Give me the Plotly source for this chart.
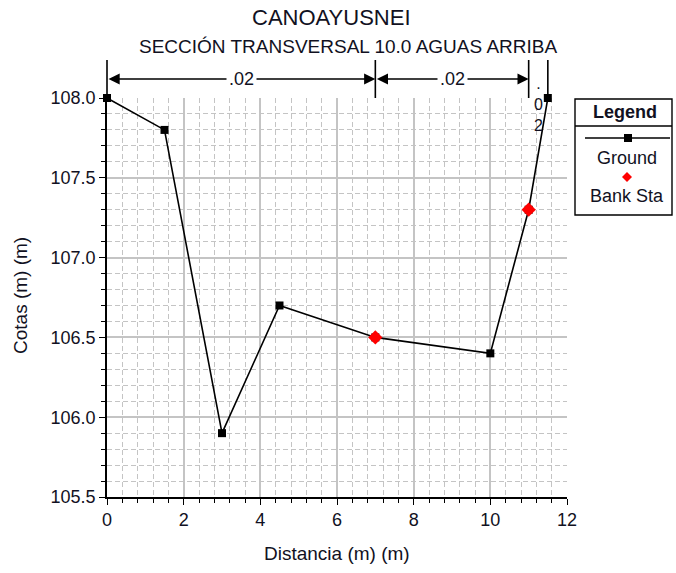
import plotly.graph_objects as go

# ---------------- data ----------------
station = [0.0, 1.5, 3.0, 4.5, 7.0, 10.0, 11.0, 11.5]
elevation = [108.0, 107.8, 105.9, 106.7, 106.5, 106.4, 107.3, 108.0]
bank_station = [7.0, 11.0]
bank_elevation = [106.5, 107.3]
manning_n = [".02", ".02", ".02"]
x_ticks = [0, 2, 4, 6, 8, 10, 12]
y_ticks = [105.5, 106.0, 106.5, 107.0, 107.5, 108.0]
y_tick_text = ["105.5", "106.0", "106.5", "107.0", "107.5", "108.0"]
title_text = "CANOAYUSNEI"
subtitle_text = "SECCIÓN TRANSVERSAL 10.0 AGUAS ARRIBA"
x_title = "Distancia (m) (m)"
y_title = "Cotas (m) (m)"
legend_title = "Legend"
legend_names = ["Ground", "Bank Sta"]

# ---------------- layout geometry ----------------
W, H = 676, 573
ML, MR, MT, MB = 107, 109, 98, 76
PW, PH = W - ML - MR, H - MT - MB
x_range = [0, 12]
y_range = [105.5, 108.0]
FONT = "Liberation Sans, Arial, sans-serif"
TXT = "#111122"


def pyp(pix):
    """paper y from a pixel row"""
    return (H - MB - pix) / PH


def pxp(pix):
    """paper x from a pixel column"""
    return (pix - ML) / PW


def xpaper(v):
    """paper x from a data x"""
    return (v - x_range[0]) / (x_range[1] - x_range[0])


fig = go.Figure()
fig.add_trace(go.Scatter(
    x=station, y=elevation, mode="lines+markers", name=legend_names[0],
    line=dict(color="black", width=1.6),
    marker=dict(symbol="square", size=8, color="black"),
    cliponaxis=False, showlegend=False))
fig.add_trace(go.Scatter(
    x=bank_station, y=bank_elevation, mode="markers", name=legend_names[1],
    marker=dict(symbol="diamond", size=11, color="#ff0000"),
    cliponaxis=False, showlegend=False))

grid_major = "#c4c4c4"
grid_minor = "#c4c4c4"
axis_common = dict(
    showline=True, linecolor="black", linewidth=1.6,
    ticks="outside", ticklen=6, tickwidth=1.3, tickcolor="black",
    showgrid=True, gridcolor=grid_major, gridwidth=1.5,
    zeroline=False, tickfont=dict(family=FONT, size=18, color=TXT),
)
fig.update_xaxes(range=x_range, tickvals=x_ticks, **axis_common,
                 minor=dict(dtick=0.4, tick0=0, ticks="outside", ticklen=4,
                            tickcolor="black", tickwidth=1.2, showgrid=True,
                            gridcolor=grid_minor, griddash="5px,3px", gridwidth=1.2))
fig.update_yaxes(range=y_range, tickvals=y_ticks, ticktext=y_tick_text, **axis_common,
                 minor=dict(dtick=0.1, tick0=105.5, ticks="outside", ticklen=4,
                            tickcolor="black", tickwidth=1.2, showgrid=True,
                            gridcolor=grid_minor, griddash="5px,3px", gridwidth=1.2))

shapes = []
annotations = []

# titles
annotations.append(dict(text=title_text, xref="paper", yref="paper", x=pxp(331), y=pyp(17),
                        xanchor="center", yanchor="middle", showarrow=False,
                        font=dict(family=FONT, size=22, color=TXT)))
annotations.append(dict(text=subtitle_text, xref="paper", yref="paper", x=pxp(348), y=pyp(46),
                        xanchor="center", yanchor="middle", showarrow=False,
                        font=dict(family=FONT, size=19, color=TXT)))
annotations.append(dict(text=x_title, xref="paper", yref="paper", x=0.5, y=pyp(553),
                        xanchor="center", yanchor="middle", showarrow=False,
                        font=dict(family=FONT, size=19, color=TXT)))
annotations.append(dict(text=y_title, xref="paper", yref="paper", x=pxp(20), y=pyp(296),
                        xanchor="center", yanchor="middle", showarrow=False, textangle=-90,
                        font=dict(family=FONT, size=19, color=TXT)))

# Manning's n reach breaks (first station, bank stations, last station)
breaks = [station[0]] + bank_station + [station[-1]]
for b in breaks:
    shapes.append(dict(type="line", xref="paper", yref="paper", x0=xpaper(b), x1=xpaper(b),
                       y0=1.0, y1=pyp(60), line=dict(color="black", width=1.6)))

y_arrow = pyp(79)
for i, n in enumerate(manning_n):
    a, b = breaks[i], breaks[i + 1]
    if (b - a) > 1.0:
        annotations.append(dict(x=b, y=y_arrow, ax=a, ay=0, xref="x", yref="paper",
                                axref="x", ayref="pixel", text="", showarrow=True,
                                arrowhead=2, startarrowhead=2, arrowside="end+start",
                                arrowsize=1.4, startarrowsize=1.4, arrowwidth=1.6,
                                arrowcolor="black", standoff=0, startstandoff=0))
        annotations.append(dict(x=(a + b) / 2, y=y_arrow, xref="x", yref="paper", text=n,
                                showarrow=False, bgcolor="white", borderpad=2,
                                xanchor="center", yanchor="middle",
                                font=dict(family=FONT, size=18, color=TXT)))
    else:
        annotations.append(dict(x=(a + b) / 2, y=pyp(104), xref="x", yref="paper",
                                text="<br>".join(list(n)),
                                showarrow=False, xanchor="center", yanchor="middle",
                                font=dict(family=FONT, size=16, color=TXT)))

# custom legend box
lx0, lx1, ly0, ly1 = pxp(575), pxp(672), pyp(215), pyp(99)
shapes.append(dict(type="rect", xref="paper", yref="paper", x0=lx0, x1=lx1, y0=ly0, y1=ly1,
                   line=dict(color="black", width=1.4), fillcolor="white"))
shapes.append(dict(type="line", xref="paper", yref="paper", x0=lx0, x1=lx1,
                   y0=pyp(126), y1=pyp(126), line=dict(color="black", width=1.4)))
annotations.append(dict(text="<b>%s</b>" % legend_title, xref="paper", yref="paper",
                        x=pxp(625), y=pyp(112), xanchor="center", yanchor="middle",
                        showarrow=False, font=dict(family=FONT, size=18, color=TXT)))
shapes.append(dict(type="line", xref="paper", yref="paper", x0=pxp(585), x1=pxp(670),
                   y0=pyp(138), y1=pyp(138), line=dict(color="black", width=1.6)))
shapes.append(dict(type="rect", xref="paper", yref="paper", xsizemode="pixel", ysizemode="pixel",
                   xanchor=pxp(628), yanchor=pyp(138), x0=-4, x1=4, y0=-4, y1=4,
                   line=dict(width=0), fillcolor="black"))
annotations.append(dict(text=legend_names[0], xref="paper", yref="paper",
                        x=pxp(627), y=pyp(158), xanchor="center", yanchor="middle",
                        showarrow=False, font=dict(family=FONT, size=18, color=TXT)))
shapes.append(dict(type="path", xref="paper", yref="paper", xsizemode="pixel", ysizemode="pixel",
                   xanchor=pxp(627), yanchor=pyp(177), path="M 0 5 L 5 0 L 0 -5 L -5 0 Z",
                   line=dict(width=0), fillcolor="#ff0000"))
annotations.append(dict(text=legend_names[1], xref="paper", yref="paper",
                        x=pxp(627), y=pyp(196), xanchor="center", yanchor="middle",
                        showarrow=False, font=dict(family=FONT, size=18, color=TXT)))

fig.update_layout(
    width=W, height=H, margin=dict(l=ML, r=MR, t=MT, b=MB),
    paper_bgcolor="white", plot_bgcolor="white",
    shapes=shapes, annotations=annotations, showlegend=False,
    font=dict(family=FONT),
)

fig.write_html("out.html")
